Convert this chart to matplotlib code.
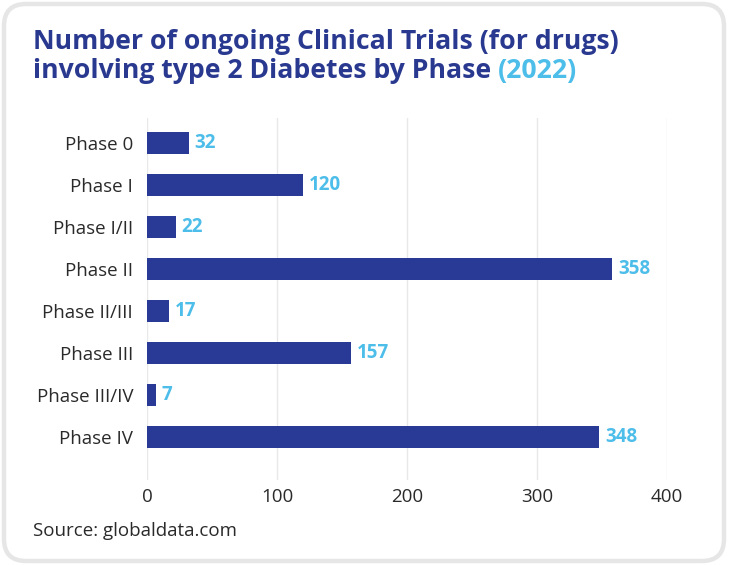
import matplotlib.pyplot as plt
from matplotlib.patches import FancyBboxPatch

# data
phases = ['Phase 0', 'Phase I', 'Phase I/II', 'Phase II', 'Phase II/III',
          'Phase III', 'Phase III/IV', 'Phase IV']
trials = [32, 120, 22, 358, 17, 157, 7, 348]
ticks = [0, 100, 200, 300, 400]

bar_col = '#283a96'
val_col = '#4dbde9'
txt_col = '#2a2a2a'
fnt = 'Open Sans'

fig = plt.figure(figsize=(7.29, 5.66), dpi=100)
fig.patch.set_facecolor('white')

# card with grey rounded border (inches)
card = FancyBboxPatch((0.04, 0.05), 7.20, 5.57,
                      boxstyle='round,pad=0,rounding_size=0.22',
                      transform=fig.dpi_scale_trans, facecolor='white',
                      edgecolor='#e6e6e6', linewidth=3.2, zorder=-5)
fig.patches.append(card)

ax = fig.add_axes([147/729, 1-480/566, 520/729, 362/566])
ax.set_facecolor('none')
ax.set_zorder(2)

y = list(range(len(phases)))
ax.barh(y, trials, height=0.53, color=bar_col, zorder=3)
for yi, v in zip(y, trials):
    ax.text(v + 4.5, yi, str(v), va='center', ha='left', color=val_col,
            fontsize=13.5, fontweight='bold', family=fnt)

ax.set_xlim(0, 400)
ax.set_ylim(len(phases) - 1 + 1.03, -0.6)
ax.set_yticks(y)
ax.set_yticklabels(phases, fontsize=13.5, color=txt_col, family=fnt)
ax.set_xticks(ticks)
ax.set_xticklabels([str(t) for t in ticks], fontsize=13.5, color=txt_col, family=fnt)
ax.tick_params(length=0)
ax.tick_params(axis='y', pad=10)
ax.tick_params(axis='x', pad=6)
for s in ax.spines.values():
    s.set_visible(False)
ax.grid(axis='x', color='#e8e8e8', linewidth=1, zorder=0)
ax.axvline(0, color='#d0d0d0', linewidth=1.2, zorder=1)

# title
tsize = 19.2
fig.text(33/729, 1-42/566, 'Number of ongoing Clinical Trials (for drugs)',
         fontsize=tsize, fontweight='bold', color='#2a3990', family=fnt,
         va='center', ha='left')
t2 = fig.text(33/729, 1-71/566, 'involving type 2 Diabetes by Phase ',
              fontsize=tsize, fontweight='bold', color='#2a3990', family=fnt,
              va='center', ha='left')
fig.canvas.draw()
bb = t2.get_window_extent()
fig.text(bb.x1 / 729, 1-71/566, '(2022)', fontsize=tsize, fontweight='bold',
         color=val_col, family=fnt, va='center', ha='left')

fig.text(33/729, 1-531/566, 'Source: globaldata.com', fontsize=13.5,
         color=txt_col, family=fnt, va='center', ha='left')

fig.savefig('out.png', dpi=100, facecolor=fig.get_facecolor())
